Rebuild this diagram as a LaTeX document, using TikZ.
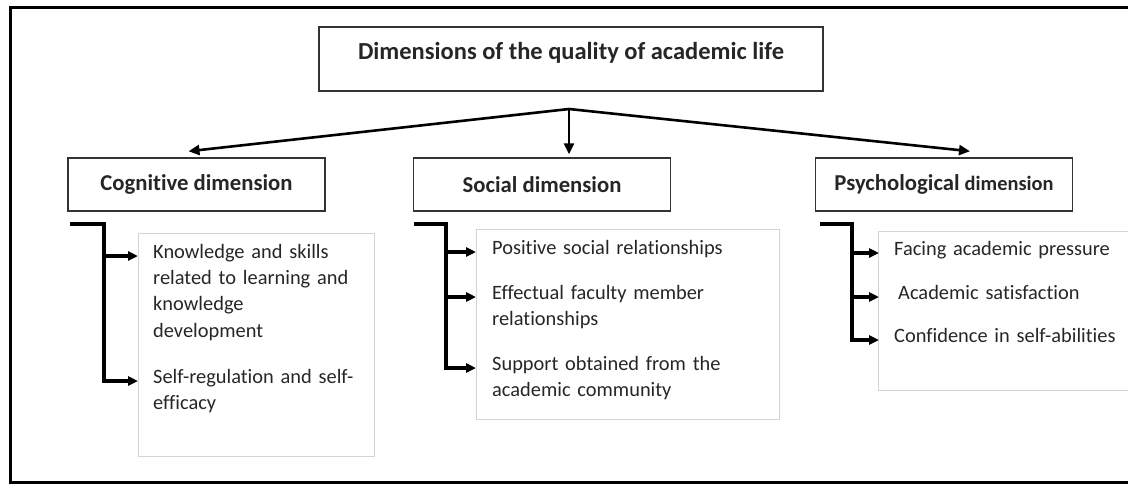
\documentclass[tikz,border=0pt]{standalone}
\usepackage{fontspec}
\setmainfont{Carlito}[Ligatures=NoCommon]
\usetikzlibrary{arrows.meta,positioning}
\definecolor{inktext}{HTML}{262626}
\definecolor{itemline}{HTML}{D4D4D4}

\begin{document}
\begin{tikzpicture}[x=1pt,y=-1pt,
    every node/.style={text=inktext},
    mainbox/.style={draw=black!80, line width=1.5pt, minimum width=504pt, minimum height=64pt,
        text height=16pt, text depth=16pt, font=\bfseries\fontsize{24.5}{28}\selectfont},
    dimbox/.style={draw=black!80, line width=1.5pt, minimum width=257pt, minimum height=53pt,
        font=\bfseries\fontsize{22.7}{26}\selectfont},
    itembox/.style={draw=itemline, line width=0.8pt, anchor=north west, inner sep=0pt},
    itemtext/.style={anchor=mid west, inner xsep=15pt, inner ysep=0pt, text width=#1,
        align=left, font=\fontsize{20.4}{26.3}\selectfont},
    bracket/.style={line width=3.2pt, black},
    arrow/.style={line width=2.6pt, black, -{Triangle[length=11pt,width=10pt]}},
    tip/.style={-{Triangle[length=10pt,width=9pt]}}
  ]
  \useasboundingbox (0,0) rectangle (1128,485);

  % outer frame
  \draw[line width=3pt] (1135,7.5) -- (10.5,7.5) -- (10.5,482.5) -- (1135,482.5);

  % title and the three dimensions
  \node[mainbox] (title) at (571,59) {Dimensions of the quality of academic life};
  \node[dimbox] (cog) at (196.5,184.5) {Cognitive dimension};
  \node[dimbox] (soc) at (542,184.5) {Social dimension};
  \node[dimbox] (psy) at (944,184.5) {Psychological {\fontsize{20.4}{24}\selectfont dimension}};

  \coordinate (fork) at (569,109);
  \draw[arrow] (fork) -- ([xshift=-8pt,yshift=6pt]cog.north);
  \draw[arrow] (fork) -- ([xshift=27pt,yshift=3pt]soc.north);
  \draw[arrow] (fork) -- ([xshift=26pt,yshift=6pt]psy.north);

  % item boxes
  \node[itembox, minimum width=236pt, minimum height=223pt] (cogitems) at (138,233) {};
  \node[itembox, minimum width=303pt, minimum height=190pt] (socitems) at (476,229) {};
  \node[itembox, minimum width=262pt, minimum height=159pt] (psyitems) at (878,231) {};

  % cognitive items
  \node[itemtext=225pt] (k1) at (138,256) {Knowledge and skills\\related to learning and\\knowledge\\development};
  \node[itemtext=225pt] (k2) at (138,381) {Self-regulation and self-\\efficacy};

  % social items
  \node[itemtext=280pt, inner xsep=16pt] (s1) at (476,252) {Positive social relationships};
  \node[itemtext=280pt, inner xsep=16pt] (s2) at (476,297) {Effectual faculty member\\relationships};
  \node[itemtext=280pt, inner xsep=16pt] (s3) at (476,368) {Support obtained from the\\academic community};

  % psychological items
  \node[itemtext=230pt] (p1) at (879,253) {Facing academic pressure};
  \node[itemtext=230pt] (p2) at (879,297) {\hspace*{4pt}Academic satisfaction};
  \node[itemtext=230pt] (p3) at (879,340) {Confidence in self-abilities};

  % brackets
  \coordinate (cogtop) at (70,224);
  \coordinate (cogspine) at (104,224);
  \draw[bracket, tip] (cogtop) -- (cogspine) |- (k2.mid west);
  \draw[bracket, tip] (cogspine |- k1.mid west) -- (k1.mid west);

  \coordinate (soctop) at (414,224);
  \coordinate (socspine) at (446,224);
  \draw[bracket, tip] (soctop) -- (socspine) |- (s3.mid west);
  \draw[bracket, tip] (socspine |- s1.mid west) -- (s1.mid west);
  \draw[bracket, tip] (socspine |- s2.mid west) -- (s2.mid west);

  \coordinate (psytop) at (820,224);
  \coordinate (psyspine) at (852,224);
  \draw[bracket, tip] (psytop) -- (psyspine) |- (p3.mid west);
  \draw[bracket, tip] (psyspine |- p1.mid west) -- (p1.mid west);
  \draw[bracket, tip] (psyspine |- p2.mid west) -- (p2.mid west);
\end{tikzpicture}
\end{document}
